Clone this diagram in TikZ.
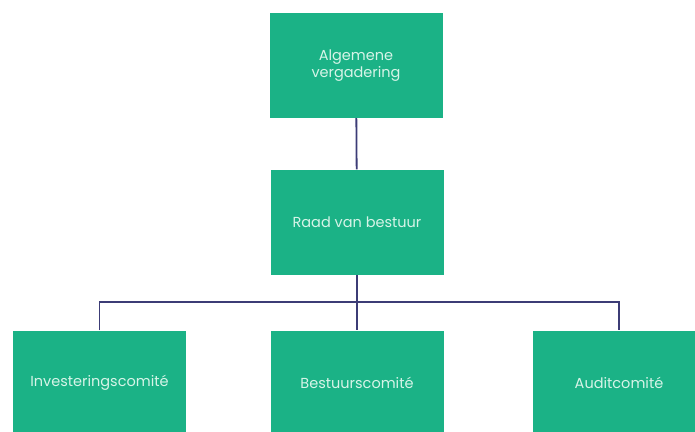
\documentclass[tikz,border=0pt]{standalone}
\usepackage{fontspec}
\setmainfont{Poppins}
\usepackage{xcolor}
\usetikzlibrary{calc}
\usetikzlibrary{backgrounds}
\definecolor{boxgreen}{RGB}{27,178,134}
\definecolor{boxtext}{RGB}{215,244,232}
\definecolor{linkblue}{RGB}{60,60,118}

\begin{document}
\begin{tikzpicture}[x=1pt,y=-1pt,
    box/.style = {fill=boxgreen, text=boxtext, inner sep=0pt, align=center,
                  minimum width=173pt, minimum height=105pt, font=\fontsize{14.5}{17}\selectfont},
    link/.style = {draw=linkblue, line width=1.8pt}]
        \useasboundingbox (0,0) rectangle (695,431);
        \node[box] at (356, 65.5) (av) {Algemene\\vergadering};
        \node[box] at (357, 222) (rvb) {Raad van bestuur};
        \node[box] at (99.5, 383) (inv) {Investeringscomité};
        \node[box] at (357, 383) (bc) {Bestuurscomité};
        \node[box] at (619, 383) (ac) {Auditcomité};
        \coordinate (split) at (357, 302);
        %\coordinate (split) at (357, 300);
        \begin{scope}[on background layer]
        \draw[link] (av) -- (rvb);
        \draw[link] (rvb) -- (split);
        \draw[link] (inv) |- (split) -| (ac);
        \draw[link] (split) -- (bc);
        \end{scope}
\end{tikzpicture}
\end{document}
